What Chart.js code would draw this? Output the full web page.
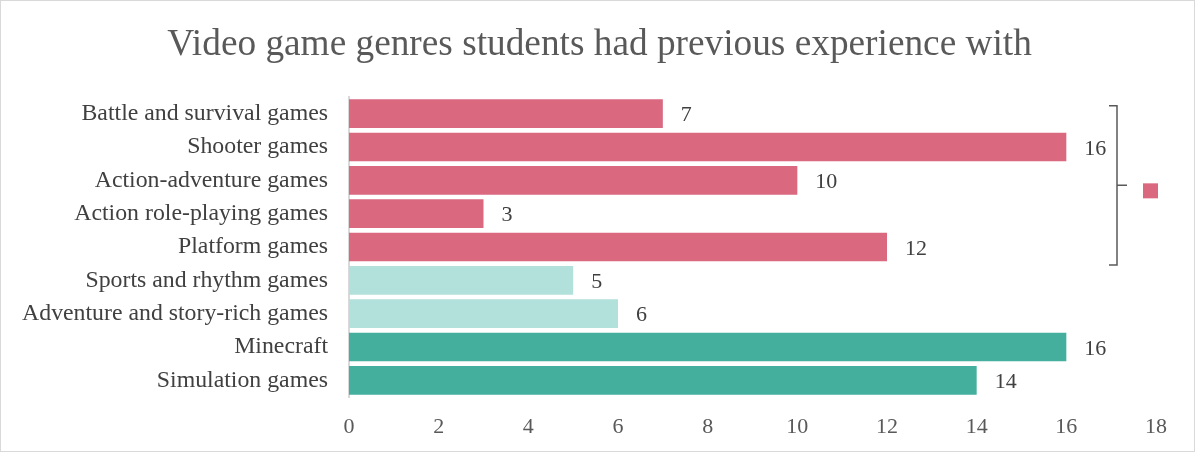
<!DOCTYPE html>
<html>
<head>
<meta charset="utf-8">
<script src="https://cdn.jsdelivr.net/npm/chart.js@4/dist/chart.umd.min.js"></script>
<style>
  html, body { margin: 0; padding: 0; background: #fff; }
  #wrap { width: 1193px; height: 450px; border: 1px solid #d9d9d9; position: relative; }
</style>
</head>
<body>
<div id="wrap"><canvas id="chart"></canvas></div>
<script>
const chartTitle = 'Video game genres students had previous experience with';
const genres = [
  'Battle and survival games',
  'Shooter games',
  'Action-adventure games',
  'Action role-playing games',
  'Platform games',
  'Sports and rhythm games',
  'Adventure and story-rich games',
  'Minecraft',
  'Simulation games'
];
const students = [7, 16, 10, 3, 12, 5, 6, 16, 14];
const groupColors = [
  '#da6980', '#da6980', '#da6980', '#da6980', '#da6980',
  '#b2e0da', '#b2e0da',
  '#45af9e', '#45af9e'
];
const xTicks = [0, 2, 4, 6, 8, 10, 12, 14, 16, 18];

const serif = '"Liberation Serif", "Times New Roman", serif';

// title centred on the whole canvas, value labels, bracket with legend marker
const extras = {
  id: 'extras',
  afterDatasetsDraw(chart) {
    const { ctx } = chart;
    const meta = chart.getDatasetMeta(0);
    ctx.save();
    ctx.font = '37.3px ' + serif;
    ctx.fillStyle = '#595959';
    ctx.textAlign = 'center';
    ctx.textBaseline = 'middle';
    ctx.fillText(chartTitle, chart.width / 2 + 2, 44);

    ctx.font = '22px ' + serif;
    ctx.fillStyle = '#404040';
    ctx.textAlign = 'left';
    meta.data.forEach((bar, i) => {
      ctx.fillText(String(students[i]), bar.x + 18, bar.y + 2);
    });

    // bracket around the pink group
    const top = meta.data[0].y - 8;
    const bot = meta.data[4].y + 18;
    const mid = (top + bot) / 2;
    const bx = 1116;
    ctx.strokeStyle = '#595959';
    ctx.lineWidth = 1.5;
    ctx.beginPath();
    ctx.moveTo(bx - 8, top);
    ctx.lineTo(bx, top);
    ctx.lineTo(bx, bot);
    ctx.lineTo(bx - 8, bot);
    ctx.moveTo(bx, mid);
    ctx.lineTo(bx + 10, mid);
    ctx.stroke();
    ctx.fillStyle = '#da6980';
    ctx.fillRect(1142, mid - 2, 15, 15);
    ctx.restore();
  }
};

new Chart(document.getElementById('chart'), {
  type: 'bar',
  data: {
    labels: genres,
    datasets: [{
      data: students,
      backgroundColor: groupColors,
      borderWidth: 0,
      barPercentage: 0.86,
      categoryPercentage: 1
    }]
  },
  plugins: [extras],
  options: {
    indexAxis: 'y',
    responsive: true,
    maintainAspectRatio: false,
    animation: false,
    layout: { padding: { left: 0, right: 38, top: 96, bottom: 13 } },
    plugins: {
      legend: { display: false },
      tooltip: { enabled: false },
      title: { display: false }
    },
    scales: {
      x: {
        min: xTicks[0],
        max: xTicks[xTicks.length - 1],
        afterBuildTicks(axis) { axis.ticks = xTicks.map(v => ({ value: v })); },
        afterFit(axis) { axis.height = 41; },
        grid: { display: false, drawTicks: false },
        border: { display: false },
        ticks: {
          color: '#595959',
          padding: 17,
          maxRotation: 0,
          font: { family: serif, size: 22 }
        }
      },
      y: {
        afterFit(axis) { axis.width = 348; },
        grid: { display: false, drawTicks: false },
        border: { display: true, color: '#d9d9d9', width: 2 },
        ticks: {
          color: '#404040',
          padding: 21,
          font: { family: serif, size: 23.8 }
        }
      }
    }
  }
});
</script>
</body>
</html>
